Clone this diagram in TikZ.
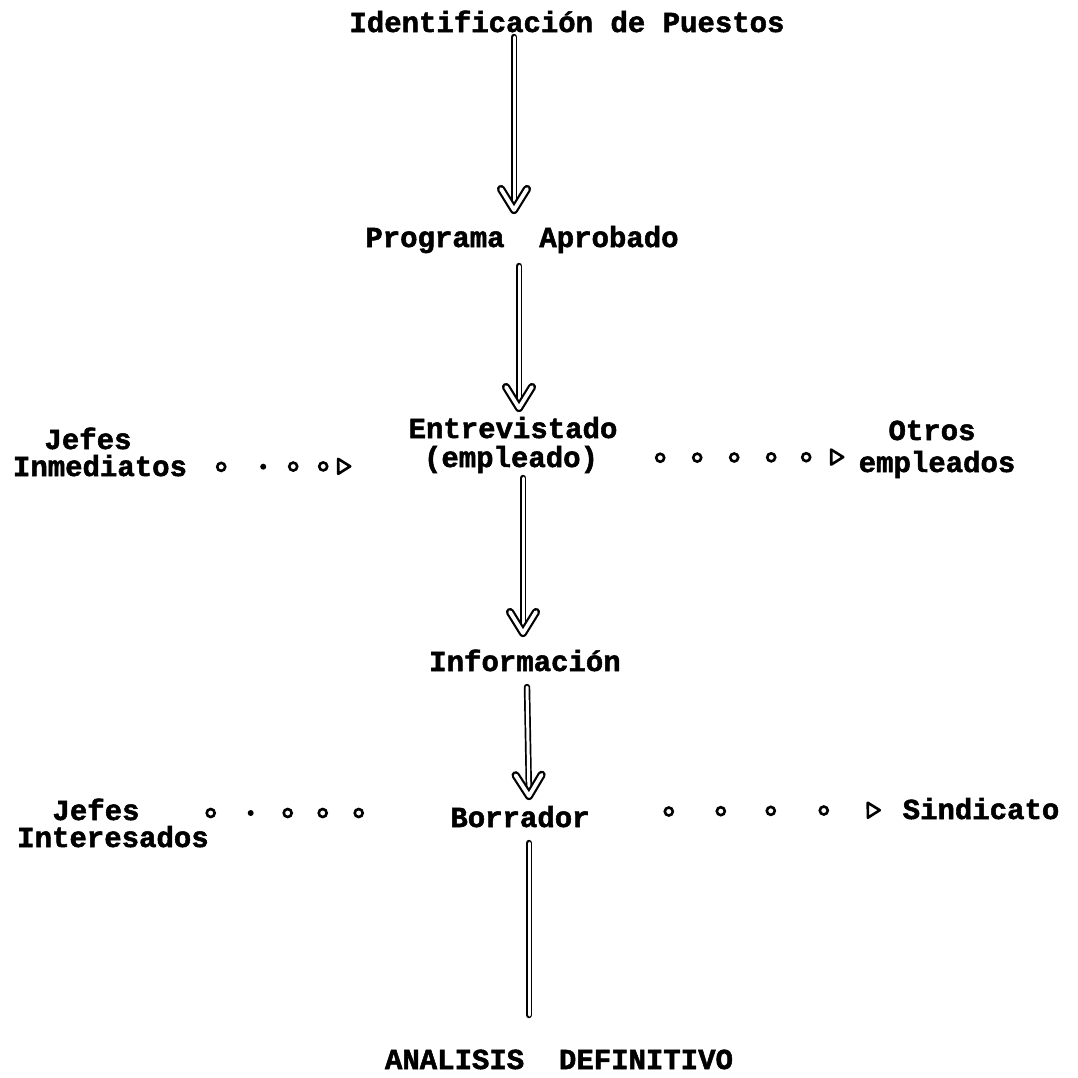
\documentclass[tikz,border=0pt]{standalone}
\usepackage{fontspec}
\newfontfamily\typewriter{Liberation Mono}[BoldFeatures={FakeBold=1.8}]
\usetikzlibrary{decorations.markings}

% marks placed along the dotted connectors
\newcommand\mkring{\draw[line width=2.6pt, fill=white] (0,0) circle[radius=4pt];}
\newcommand\mkdot{\fill (0,0) circle[radius=3pt];}
\newcommand\mktip{\draw[line width=2.6pt, line join=round] (-12pt,7.5pt) -- (0,0) -- (-12pt,-7.5pt) -- cycle;}

\tikzset{
  lbl/.style={inner sep=0pt, anchor=base,
    font=\typewriter\bfseries\fontsize{29}{32}\selectfont},
  shaft/.style={draw=black, line width=1.7pt, double=white,
    double distance=3pt, line cap=round},
  vhead/.style={postaction={decorate, decoration={markings,
    mark=at position 1 with {\draw[line width=2.2pt, double=white,
      double distance=3.8pt, line cap=round, line join=round]
      (-21pt,13pt) -- (0,0) -- (-21pt,-13pt);}}}},
}

\begin{document}
\begin{tikzpicture}[x=1pt,y=-1pt]
\useasboundingbox[fill=white] (0,0) rectangle (1078,1077);

% main column
\node[lbl] (title)  at (567,32)   {Identificación de Puestos};
\node[lbl] (prog)   at (522,247)  {Programa\ \ Aprobado};
\node[lbl] (entrev) at (513,438)  {Entrevistado};
\node[lbl] (emp)    at (511,467)  {(empleado)};
\node[lbl] (info)   at (525,671)  {Información};
\node[lbl] (borr)   at (520,827)  {Borrador};
\node[lbl] (final)  at (559,1069) {ANALISIS\ \ DEFINITIVO};

% side labels
\node[lbl] (jefesA) at (88,449)  {Jefes};
\node[lbl] (inmed)  at (100,476) {Inmediatos};
\node[lbl] (otros)  at (932,440) {Otros};
\node[lbl] (emplB)  at (937,472) {empleados};
\node[lbl] (jefesB) at (96,820)  {Jefes};
\node[lbl] (inter)  at (113,847) {Interesados};
\node[lbl] (sind)   at (981,819) {Sindicato};

% vertical flow
\draw[shaft, vhead] ([xshift=-53pt,yshift=-5pt]title.base) -- ([xshift=-8pt,yshift=37pt]prog.base);
\draw[shaft, vhead] ([xshift=-3pt,yshift=-19pt]prog.base) -- ([xshift=6pt,yshift=30pt]entrev.base);
\draw[shaft, vhead] ([xshift=12pt,yshift=-11pt]emp.base) -- ([xshift=-2pt,yshift=38pt]info.base);
\draw[shaft, vhead] ([xshift=2pt,yshift=-16pt]info.base) -- ([xshift=9pt,yshift=31pt]borr.base);
\draw[shaft] ([xshift=9pt,yshift=-16pt]borr.base) -- ([xshift=-30pt,yshift=54pt]final.base);

% dotted side connectors
\path[decorate, decoration={markings,
    mark=at position 34pt with {\mkring},
    mark=at position 76pt with {\mkdot},
    mark=at position 106pt with {\mkring},
    mark=at position 136pt with {\mkring},
    mark=at position 163pt with {\mktip}}]
  ([yshift=9pt]inmed.base east) -- ([yshift=1pt]emp.base west);

\path[decorate, decoration={markings,
    mark=at position 62pt with {\mkring},
    mark=at position 99pt with {\mkring},
    mark=at position 136pt with {\mkring},
    mark=at position 173pt with {\mkring},
    mark=at position 208pt with {\mkring},
    mark=at position 245pt with {\mktip}}]
  ([yshift=9pt]emp.base east) -- ([yshift=15pt]emplB.base west);

\path[decorate, decoration={markings,
    mark=at position 71pt with {\mkring},
    mark=at position 111pt with {\mkdot},
    mark=at position 148pt with {\mkring},
    mark=at position 183pt with {\mkring},
    mark=at position 219pt with {\mkring}}]
  ([yshift=7pt]jefesB.base east) -- ([yshift=14pt]borr.base west);

\path[decorate, decoration={markings,
    mark=at position 79pt with {\mkring},
    mark=at position 131pt with {\mkring},
    mark=at position 181pt with {\mkring},
    mark=at position 234pt with {\mkring},
    mark=at position 290pt with {\mktip}}]
  ([yshift=15pt]borr.base east) -- ([yshift=9pt]sind.base west);
\end{tikzpicture}
\end{document}
